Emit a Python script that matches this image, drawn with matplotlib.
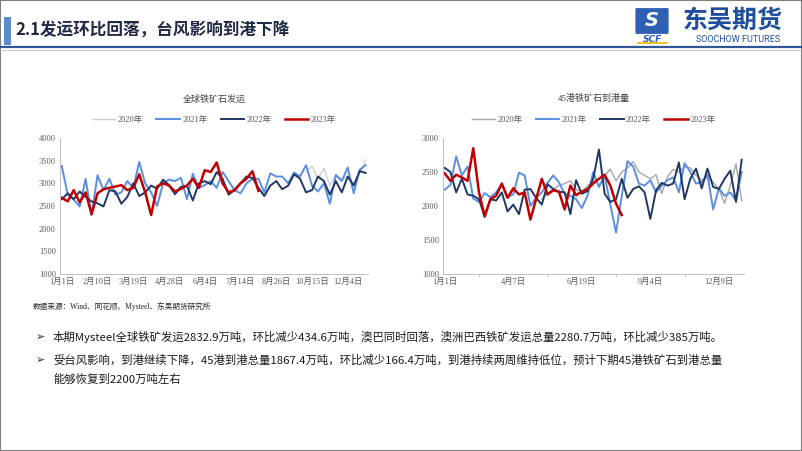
import numpy as np
import matplotlib
matplotlib.use("Agg")
import matplotlib.pyplot as plt
from matplotlib.patches import Rectangle, FancyBboxPatch
from matplotlib.lines import Line2D

plt.rcParams['font.family'] = ['Noto Sans CJK SC', 'DejaVu Sans']

years = ['2020年', '2021年', '2022年', '2023年']

# ---- 全球铁矿石发运 (weekly, 52 categories) ----
ship_ticks = ['1月1日', '2月10日', '3月19日', '4月28日', '6月4日', '7月14日',
              '8月26日', '10月15日', '12月4日']
ship_2021 = [3380, 2750, 2640, 2490, 3100, 2300, 3180, 2850, 3100, 2750, 2800, 3050, 2900,
             3470, 3000, 2800, 2500, 3000, 3080, 3050, 3120, 2650, 3210, 2900, 2960, 3050,
             2900, 3250, 3050, 2850, 2780, 3000, 3100, 3100, 2800, 3220, 3150, 3150, 3000,
             3240, 3150, 3400, 2950, 2820, 3000, 2550, 3180, 3050, 3350, 2780, 3300, 3400]
ship_2022 = [2650, 2780, 2650, 2820, 2700, 2600, 2560, 2490, 2850, 2820, 2550, 2700, 3000,
             2720, 2800, 2950, 2880, 3080, 2960, 2760, 2920, 2950, 2620, 3000, 3050, 2980,
             3250, 3100, 2750, 2850, 3000, 3150, 3120, 2900, 2720, 2950, 3050, 2870, 2950,
             3200, 3100, 2800, 2850, 3150, 3050, 2750, 3050, 2800, 3150, 2950, 3270, 3230]
ship_2020 = [np.nan] * 41 + [3250, 3380, 3100, 3330, 2950, 3200, 3100, 3150, 3000, 3200, 3520]
ship_2023 = [2680, 2600, 2850, 2580, 2800, 2320, 2780, 2870, 2900, 2930, 2960, 2850, 2900,
             3200, 2800, 2300, 2930, 3000, 2950, 2820, 2880, 2950, 3100, 2900, 3290, 3250,
             3460, 3000, 2800, 2850, 3000, 3100, 3267.5, 2832.9]

# ---- 45港铁矿石到港量 (weekly, 53 categories) ----
port_ticks = ['1月1日', '4月7日', '6月19日', '9月4日', '12月9日']
port_2021 = [2240, 2310, 2730, 2450, 2580, 2110, 2060, 2190, 2130, 2200, 2320, 2130, 2170,
             2490, 2450, 2000, 2120, 2200, 2340, 2450, 2350, 2180, 2150, 2100, 1970, 2150,
             2500, 2280, 2450, 2020, 1610, 2150, 2660, 2580, 2330, 2300, 2380, 2200, 2300,
             2380, 2420, 2200, 2630, 2500, 2330, 2350, 2460, 1950, 2260, 2150, 2200, 2080, 2500]
port_2022 = [2560, 2500, 2200, 2400, 2170, 2150, 2100, 1840, 2100, 2080, 2200, 1920, 2020,
             1880, 2240, 2250, 2120, 2020, 2320, 2250, 2210, 2200, 1880, 2380, 2180, 2220,
             2400, 2830, 2180, 2060, 2100, 2400, 2120, 2250, 2290, 2200, 1810, 2230, 2340,
             2300, 2330, 2640, 2100, 2400, 2550, 2260, 2550, 2280, 2250, 2400, 2520, 2060, 2680]
port_2020 = [np.nan] * 17 + [2100, 2180, 2250, 2300, 2330, 2370, 2250, 2200, 2300, 2350,
                             2400, 2450, 2540, 2370, 2500, 2560, 2650, 2500, 2450, 2400,
                             2460, 2180, 2430, 2540, 2500, 2580, 2560, 2450, 2380, 2420,
                             2350, 2250, 2040, 2300, 2620, 2080]
port_2023 = [2480, 2370, 2460, 2420, 2370, 2850, 2200, 1850, 2100, 2150, 2330, 2120, 2260,
             2170, 2200, 1800, 2100, 2400, 2170, 2230, 2210, 1950, 2300, 2160, 2210, 2250,
             2330, 2400, 2460, 2300, 2033.8, 1867.4]

W, H = 802, 451
fig = plt.figure(figsize=(W / 100, H / 100), dpi=100)


def fx(x):
    return x / W


def fy(y):
    return 1 - y / H


# slide frame and header
fig.patches.append(Rectangle((0, 0), 1, 1, transform=fig.transFigure, fill=False,
                             edgecolor='#7f7f7f', lw=1.5))
fig.patches.append(Rectangle((fx(4), fy(45)), fx(7), 28 / H, transform=fig.transFigure,
                             facecolor='#5b8bd0', edgecolor='none'))
fig.add_artist(Line2D([0, 1], [fy(47), fy(47)], transform=fig.transFigure,
                      color='#2f5597', lw=1.6))
fig.add_artist(Line2D([0, 1], [fy(50), fy(50)], transform=fig.transFigure,
                      color='#bfbfbf', lw=0.6))
fig.text(fx(15), fy(30), '2.1发运环比回落，台风影响到港下降', fontsize=12, fontweight='bold',
         color='#1f2a44', va='center', ha='left')

# logo
fig.patches.append(FancyBboxPatch((fx(637), fy(33)), fx(30), 24 / H, transform=fig.transFigure,
                                  boxstyle='round,pad=0.002', facecolor='#2f5fb3',
                                  edgecolor='none'))
fig.text(fx(652), fy(21), 'S', fontsize=14, fontweight='bold', color='white',
         ha='center', va='center', family=['DejaVu Sans'], style='italic')
fig.text(fx(652), fy(39), 'SCF', fontsize=6.5, fontweight='bold', color='#2f5fb3',
         ha='center', va='center', family=['DejaVu Sans'], style='italic')
fig.add_artist(Line2D([fx(638), fx(667)], [fy(43), fy(43)], transform=fig.transFigure,
                      color='#f2b800', lw=1.2))
fig.text(fx(733), fy(21), '东吴期货', fontsize=18, fontweight='bold', color='#1f4e9c',
         ha='center', va='center')
fig.text(fx(738), fy(40), 'SOOCHOW FUTURES', fontsize=6.5, color='#1f4e9c',
         ha='center', va='center', family=['Roboto', 'DejaVu Sans'])

colors = {'2020年': '#d0d0d0', '2021年': '#5b8ee0', '2022年': '#1f3864', '2023年': '#c00000'}
num_font = ['Liberation Serif', 'Noto Sans CJK SC']


def draw_chart(rect, title, series, gray, ticks, step, minor, ytop):
    ax = fig.add_axes(rect)
    n = max(len(s) for s in series)
    widths = [1.0, 1.4, 1.4, 1.8]
    handles = []
    for name, vals, lw in zip(years, series, widths):
        c = gray if name == '2020年' else colors[name]
        h, = ax.plot(np.arange(len(vals)), vals, color=c, lw=lw, label=name)
        handles.append(h)
    ax.set_ylim(1000, ytop)
    ax.set_yticks(np.arange(1000, ytop + 1, 500))
    ax.set_xlim(-0.3, n - 0.6)
    ax.set_xticks(np.arange(0, step * len(ticks), step))
    ax.set_xticklabels(ticks)
    if minor:
        ax.set_xticks(np.arange(step // 2, n, step), minor=True)
        ax.tick_params(axis='x', which='minor', length=2, color='#bfbfbf')
    ax.tick_params(axis='x', which='major', length=0, pad=3)
    ax.tick_params(axis='y', length=0, pad=3)
    for lab in ax.get_xticklabels() + ax.get_yticklabels():
        lab.set_family(num_font)
        lab.set_fontsize(6)
        lab.set_color('#595959')
    for s in ['top', 'right']:
        ax.spines[s].set_visible(False)
    for s in ['left', 'bottom']:
        ax.spines[s].set_color('#bfbfbf')
        ax.spines[s].set_linewidth(0.7)
    cx = rect[0] + rect[2] / 2
    fig.text(cx, fy(99), title, fontsize=6.5, color='#404040', ha='center', va='center',
             family=num_font)
    leg = fig.legend(handles=handles, loc='center', bbox_to_anchor=(cx, fy(120)), ncol=4,
                     frameon=False, handlelength=2.8, columnspacing=1.6,
                     handletextpad=0.3, prop={'family': num_font, 'size': 6})
    for t in leg.get_texts():
        t.set_color('#595959')
    return ax


draw_chart([fx(60), fy(274), fx(308), 136 / H], '全球铁矿石发运',
           [ship_2020, ship_2021, ship_2022, ship_2023], '#d0d0d0', ship_ticks, 6, False, 4000)
draw_chart([fx(443), fy(274), fx(301), 136 / H], '45港铁矿石到港量',
           [port_2020, port_2021, port_2022, port_2023], '#a6a6a6', port_ticks, 12, True, 3000)

fig.text(fx(33), fy(307), '数据来源：Wind、同花顺、Mysteel、东吴期货研究所', fontsize=5.5,
         color='#262626', va='center', ha='left', family=num_font)

bullets = [
    (337, '➢', '本期Mysteel全球铁矿发运2832.9万吨，环比减少434.6万吨，澳巴同时回落，澳洲巴西铁矿发运总量2280.7万吨，环比减少385万吨。'),
    (360, '➢', '受台风影响，到港继续下降，45港到港总量1867.4万吨，环比减少166.4万吨，到港持续两周维持低位，预计下期45港铁矿石到港总量'),
    (379, '', '能够恢复到2200万吨左右'),
]
for y, mark, txt in bullets:
    if mark:
        fig.text(fx(36), fy(y), mark, fontsize=8, color='#262626', va='center', ha='left',
                 family=['DejaVu Sans'])
    fig.text(fx(53), fy(y), txt, fontsize=8.2, color='#1a1a1a', va='center', ha='left')

fig.savefig('out.png', dpi=100)
